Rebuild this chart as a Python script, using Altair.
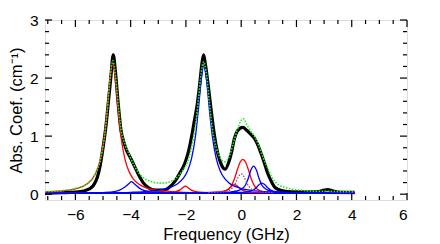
import altair as alt
import pandas as pd

# ---------------- data ----------------
# measured spectrum (thick black)
data_x = [-7.1, -6.5, -6.0, -5.7, -5.5, -5.35, -5.2, -5.1, -5.0, -4.9, -4.8, -4.72, -4.63,
          -4.55, -4.45, -4.35, -4.25, -4.15, -4.0, -3.85, -3.7, -3.55, -3.35, -3.1, -2.8,
          -2.6, -2.4, -2.2, -2.05, -1.9, -1.8, -1.7, -1.6, -1.5, -1.42, -1.36, -1.3, -1.2,
          -1.1, -1.0, -0.9, -0.8, -0.7, -0.58, -0.45, -0.35, -0.25, -0.15, -0.05, 0.06,
          0.2, 0.35, 0.48, 0.6, 0.72, 0.85, 0.96, 1.1, 1.2, 1.35, 1.6, 2.0, 2.5, 2.8, 3.0,
          3.13, 3.3, 3.5, 3.8, 4.1]
data_y = [0.02, 0.025, 0.035, 0.055, 0.09, 0.15, 0.30, 0.50, 0.80, 1.15, 1.62, 2.0, 2.40,
          2.1, 1.55, 1.10, 0.90, 0.76, 0.62, 0.47, 0.32, 0.20, 0.11, 0.07, 0.07,
          0.12, 0.22, 0.38, 0.52, 0.75, 0.98, 1.25, 1.52, 1.9, 2.25, 2.40, 2.25, 1.9,
          1.5, 1.12, 0.82, 0.62, 0.49, 0.43, 0.55, 0.72, 0.95, 1.08, 1.13, 1.15,
          1.10, 1.03, 0.96, 0.85, 0.70, 0.52, 0.36, 0.21, 0.13, 0.08, 0.05, 0.04, 0.04, 0.045, 0.07,
          0.08, 0.06, 0.035, 0.03, 0.03]

# total fit (green dotted)
fit_x = [-7.1, -6.5, -6.0, -5.6, -5.3, -5.1, -4.95, -4.85, -4.75, -4.65, -4.55, -4.45, -4.35,
         -4.2, -4.05, -3.9, -3.7, -3.5, -3.2, -2.9, -2.6, -2.3, -2.1, -1.95, -1.8, -1.65,
         -1.55, -1.45, -1.36, -1.25, -1.15, -1.05, -0.9, -0.75, -0.6, -0.45, -0.3, -0.15,
         0.0, 0.08, 0.2, 0.35, 0.5, 0.65, 0.8, 0.96, 1.1, 1.3, 1.5, 1.8, 2.2, 2.7, 3.1, 3.6, 4.1]
fit_y = [0.045, 0.06, 0.10, 0.17, 0.33, 0.58, 0.98, 1.42, 1.95, 2.30, 2.05, 1.55, 1.12,
         0.85, 0.68, 0.52, 0.36, 0.27, 0.21, 0.19, 0.21, 0.30, 0.42, 0.55, 0.80, 1.20,
         1.62, 2.08, 2.28, 2.05, 1.58, 1.15, 0.80, 0.62, 0.56, 0.63, 0.85, 1.10,
         1.27, 1.30, 1.20, 1.08, 0.98, 0.82, 0.62, 0.45, 0.30, 0.18, 0.13, 0.09, 0.065, 0.05, 0.05, 0.045, 0.04]

# red components
red_a_x = [-7.1, -6.5, -6.0, -5.6, -5.3, -5.1, -4.95, -4.85, -4.75, -4.65, -4.55, -4.45, -4.35,
           -4.2, -4.05, -3.9, -3.7, -3.5, -3.2, -2.9, -2.5, -2.0, -1.0, 0.0, 2.0, 4.1]
red_a_y = [0.035, 0.055, 0.09, 0.17, 0.33, 0.59, 0.99, 1.44, 1.98, 2.26, 1.98, 1.44, 0.99,
           0.59, 0.38, 0.26, 0.17, 0.12, 0.08, 0.06, 0.045, 0.03, 0.02, 0.017, 0.014, 0.012]
red_b_x = [-7.1, -4.0, -3.0, -2.5, -2.32, -2.22, -2.12, -2.02, -1.92, -1.82, -1.72, -1.52, -1.0, 0.0, 2.0, 4.1]
red_b_y = [0.02, 0.022, 0.024, 0.034, 0.052, 0.074, 0.112, 0.14, 0.112, 0.074, 0.052, 0.034, 0.024, 0.022, 0.02, 0.02]
red_c_x = [-7.1, -2.0, -1.44, -0.94, -0.69, -0.54, -0.44, -0.34, -0.24, -0.14, -0.04, 0.06, 0.21, 0.46, 0.96, 2.0, 4.1]
red_c_y = [0.02, 0.022, 0.025, 0.032, 0.045, 0.065, 0.095, 0.14, 0.165, 0.14, 0.095, 0.065, 0.045, 0.032, 0.025, 0.022, 0.02]
red_d_x = [-7.1, -3.0, -1.94, -0.94, -0.64, -0.44, -0.34, -0.24, -0.14, -0.04, 0.06, 0.16, 0.26, 0.36, 0.46, 0.56, 0.76, 1.06, 2.06, 4.1]
red_d_y = [0.02, 0.022, 0.025, 0.035, 0.05, 0.095, 0.16, 0.27, 0.42, 0.55, 0.60, 0.55, 0.42, 0.27, 0.16, 0.095, 0.05, 0.035, 0.025, 0.021]

# blue components
blue_a_x = [-7.1, -5.5, -5.0, -4.6, -4.4, -4.25, -4.12, -4.05, -3.97, -3.89, -3.82, -3.67, -3.5, -3.3, -2.9, -2.0, -1.0, 4.1]
blue_a_y = [0.015, 0.02, 0.028, 0.045, 0.07, 0.11, 0.16, 0.19, 0.215, 0.19, 0.16, 0.10, 0.06, 0.04, 0.027, 0.018, 0.015, 0.013]
blue_b_x = [-7.1, -6.0, -5.0, -4.0, -3.5, -3.0, -2.6, -2.3, -2.1, -1.95, -1.8, -1.65, -1.55, -1.45, -1.35,
            -1.25, -1.15, -1.05, -0.9, -0.75, -0.6, -0.45, -0.3, -0.15, 0.0, 0.25, 0.5, 1.0, 1.5, 2.0, 3.0, 4.1]
blue_b_y = [0.015, 0.018, 0.022, 0.033, 0.045, 0.069, 0.112, 0.18, 0.271, 0.392, 0.608, 1.015, 1.449, 1.953, 2.21,
            1.953, 1.449, 1.015, 0.608, 0.392, 0.271, 0.198, 0.151, 0.12, 0.098, 0.073, 0.0575, 0.04, 0.03, 0.025, 0.019, 0.016]
blue_c_x = [-7.1, -3.0, -1.05, -0.45, -0.15, 0.0, 0.15, 0.25, 0.35, 0.45, 0.55, 0.65, 0.75, 0.9, 1.05, 1.35, 2.0, 4.1]
blue_c_y = [0.015, 0.017, 0.023, 0.035, 0.055, 0.085, 0.155, 0.265, 0.415, 0.485, 0.415, 0.265, 0.155, 0.085, 0.055, 0.035, 0.025, 0.018]
blue_d_x = [-7.1, -1.0, -0.45, -0.05, 0.3, 0.45, 0.55, 0.65, 0.75, 0.85, 0.95, 1.05, 1.2, 1.45, 1.95, 3.0, 4.1]
blue_d_y = [0.015, 0.018, 0.021, 0.03, 0.047, 0.075, 0.115, 0.165, 0.19, 0.165, 0.115, 0.075, 0.047, 0.03, 0.021, 0.017, 0.015]

# purple dotted component
purple_x = [-1.2, -0.7, -0.45, -0.3, -0.2, -0.1, 0.0, 0.1, 0.2, 0.3, 0.45, 0.7, 1.2]
purple_y = [0.028, 0.04, 0.065, 0.12, 0.195, 0.30, 0.35, 0.30, 0.195, 0.12, 0.065, 0.04, 0.028]

# axis ticks
x_labels = [-6, -4, -2, 0, 2, 4, 6]
x_minor = [-7.0, -6.5, -5.5, -5.0, -4.5, -3.5, -3.0, -2.5, -1.5, -1.0, -0.5,
           0.5, 1.0, 1.5, 2.5, 3.0, 3.5, 4.5, 5.0, 5.5]
y_labels = [0, 1, 2, 3]
y_minor = [0.2, 0.4, 0.6, 0.8, 1.2, 1.4, 1.6, 1.8, 2.2, 2.4, 2.6, 2.8]

# ---------------- chart ----------------
W, H = 362, 180
FONT = "Liberation Sans"
xs = alt.Scale(domain=[-7.1, 6], nice=False, zero=False)
ys = alt.Scale(domain=[-0.1, 3], nice=False, zero=False)


def frame(groups):
    rows = []
    for name, xv, yv in groups:
        for a, b in zip(xv, yv):
            rows.append({"x": a, "y": b, "c": name})
    return pd.DataFrame(rows)


black_df = frame([("data", data_x, data_y)])
green_df = frame([("fit", fit_x, fit_y)])
red_df = frame([("ra", red_a_x, red_a_y), ("rb", red_b_x, red_b_y),
                ("rc", red_c_x, red_c_y), ("rd", red_d_x, red_d_y)])
blue_df = frame([("ba", blue_a_x, blue_a_y), ("bb", blue_b_x, blue_b_y),
                 ("bc", blue_c_x, blue_c_y), ("bd", blue_d_x, blue_d_y)])
purple_df = frame([("p", purple_x, purple_y)])

xaxis = alt.Axis(values=x_labels, ticks=False, tickSize=0, domain=False, grid=False,
                 labelFontSize=15.5, labelFont=FONT, labelColor="black", labelPadding=7,
                 title="Frequency (GHz)", titleFontSize=16.5, titleFont=FONT,
                 titleFontWeight="normal", titleColor="black", titlePadding=4)
yaxis = alt.Axis(values=y_labels, ticks=False, tickSize=0, domain=False, grid=False,
                 labelFontSize=15.5, labelFont=FONT, labelColor="black", labelPadding=7,
                 title="Abs. Coef. (cm⁻¹)", titleFontSize=16.5, titleFont=FONT,
                 titleFontWeight="normal", titleColor="black", titlePadding=5)

X = alt.X("x:Q", scale=xs, axis=xaxis)
Y = alt.Y("y:Q", scale=ys, axis=yaxis)


def comp(df, color, width=1.3, dash=None):
    kw = dict(color=color, strokeWidth=width, interpolate="monotone", clip=True)
    if dash:
        kw["strokeDash"] = dash
    return alt.Chart(df).mark_line(**kw).encode(x=X, y=Y, detail="c:N")


black = comp(black_df, "black", 3.2)
red = comp(red_df, "#ff0000")
blue = comp(blue_df, "#0000ff")
purple = comp(purple_df, "#9a4c96", 1.3, [1.5, 1.5])
green = comp(green_df, "#22ee22", 1.6, [1.6, 1.4])


def ticks_x(vals, length):
    df = pd.DataFrame({"x": vals})
    bot = alt.Chart(df).mark_rule(color="black", strokeWidth=1.2).encode(
        x=X, y=alt.value(H), y2=alt.value(H - length))
    top = alt.Chart(df).mark_rule(color="black", strokeWidth=1.2).encode(
        x=X, y=alt.value(0), y2=alt.value(length))
    return [bot, top]


def ticks_y(vals, length):
    df = pd.DataFrame({"y": vals})
    left = alt.Chart(df).mark_rule(color="black", strokeWidth=1.2).encode(
        y=Y, x=alt.value(0), x2=alt.value(length))
    right = alt.Chart(df).mark_rule(color="black", strokeWidth=1.2).encode(
        y=Y, x=alt.value(W), x2=alt.value(W - length))
    return [left, right]


layers = [black, red, blue, purple, green]
layers += ticks_x(x_labels, 7) + ticks_x(x_minor, 4)
layers += ticks_y(y_labels, 7) + ticks_y(y_minor, 4)

chart = alt.layer(*layers).properties(
    width=W, height=H,
    autosize=alt.AutoSizeParams(type="none"),
    padding={"left": 37, "top": 12, "right": 20, "bottom": 52},
).configure_view(stroke="black", strokeWidth=1.5).configure(background="white")

chart.save("out.html", embed_options={"renderer": "svg", "actions": False})
